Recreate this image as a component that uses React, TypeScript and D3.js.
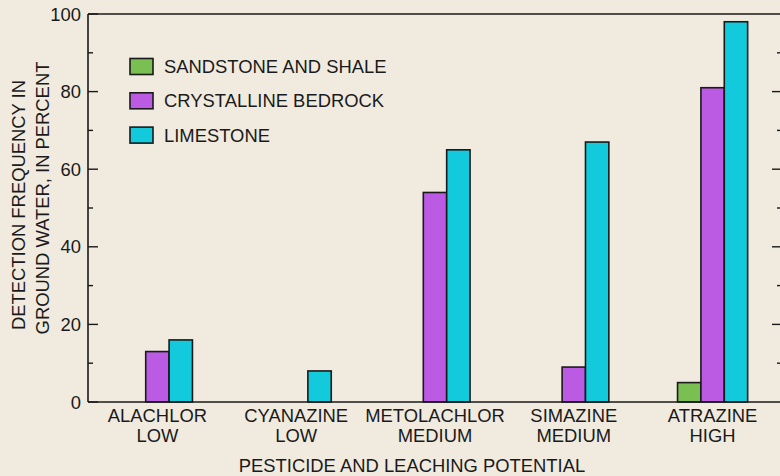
import React from "react";
import * as d3 from "d3";

const categories = ["ALACHLOR", "CYANAZINE", "METOLACHLOR", "SIMAZINE", "ATRAZINE"];
const potentials = ["LOW", "LOW", "MEDIUM", "MEDIUM", "HIGH"];
const seriesNames = ["SANDSTONE AND SHALE", "CRYSTALLINE BEDROCK", "LIMESTONE"];
const seriesColors = ["#7abf52", "#bb5be3", "#12cadc"];
const sandstone = [0, 0, 0, 0, 5];
const crystalline = [13, 0, 54, 9, 81];
const limestone = [16, 8, 65, 67, 98];
const yTicks = [0, 20, 40, 60, 80, 100];
const yMinor = [10, 30, 50, 70, 90];

const W = 780, H = 476;
const m = { left: 88, right: -2, top: 14, bottom: 74 };

export default function App() {
  const series = [sandstone, crystalline, limestone];
  const x = d3.scaleBand<string>().domain(categories).range([m.left, W - m.right]).paddingInner(0.495).paddingOuter(0.2475);
  const x1 = d3.scaleBand<number>().domain([0, 1, 2]).range([0, x.bandwidth()]);
  const y = d3.scaleLinear().domain([0, 100]).range([H - m.bottom, m.top]);
  const font = "'Liberation Sans', Arial, sans-serif";
  const ink = "#1a1a1a";
  const fs = 18.4;
  return (
    <svg width={W} height={H} style={{ position: "absolute", left: 0, top: 0, display: "block" }} fontFamily={font}>
      <rect x={0} y={0} width={W} height={H} fill="#f0eadf" />
      {/* bars */}
      {categories.map((c, i) => (
        <g key={c}>
          {series.map((s, j) => (
            <rect key={j} x={(x(c) as number) + (x1(j) as number)} y={y(s[i])} width={x1.bandwidth()}
              height={y(0) - y(s[i])} fill={seriesColors[j]} stroke={ink} strokeWidth={s[i] === 0 ? 2.4 : 1.6} />
          ))}
        </g>
      ))}
      {/* axes */}
      <line x1={m.left} x2={W} y1={y(100)} y2={y(100)} stroke={ink} strokeWidth={1.6} />
      <line x1={m.left} x2={W} y1={y(0)} y2={y(0)} stroke={ink} strokeWidth={1.4} />
      <line x1={m.left} x2={m.left} y1={y(100)} y2={y(0)} stroke={ink} strokeWidth={1.6} />
      {yTicks.map(t => (
        <g key={t}>
          <line x1={m.left} x2={m.left + 10} y1={y(t)} y2={y(t)} stroke={ink} strokeWidth={1.4} />
          {t > 0 && t < 100 && <line x1={772} x2={W} y1={y(t)} y2={y(t)} stroke={ink} strokeWidth={1.4} />}
          <text x={81} y={y(t)} dy="0.36em" textAnchor="end" fontSize={fs} fill={ink}>{t}</text>
        </g>
      ))}
      {yMinor.map(t => (
        <g key={t}>
          <line x1={m.left} x2={m.left + 5} y1={y(t)} y2={y(t)} stroke={ink} strokeWidth={1.4} />
          <line x1={777} x2={W} y1={y(t)} y2={y(t)} stroke={ink} strokeWidth={1.4} />
        </g>
      ))}
      {/* x labels */}
      {categories.map((c, i) => {
        const cx = (x(c) as number) + x.bandwidth() / 2;
        return (
          <g key={c}>
            <text x={cx} y={422} textAnchor="middle" fontSize={fs} fill={ink}>{c}</text>
            <text x={cx} y={442} textAnchor="middle" fontSize={fs} fill={ink}>{potentials[i]}</text>
          </g>
        );
      })}
      <text x={412} y={472} textAnchor="middle" fontSize={fs} fill={ink}>PESTICIDE AND LEACHING POTENTIAL</text>
      {/* y title */}
      <text transform={`translate(25,205) rotate(-90)`} textAnchor="middle" fontSize={fs} fill={ink}>DETECTION FREQUENCY IN</text>
      <text transform={`translate(49,198) rotate(-90)`} textAnchor="middle" fontSize={fs} fill={ink}>GROUND WATER, IN PERCENT</text>
      {/* legend */}
      {seriesNames.map((n, j) => (
        <g key={n} transform={`translate(130,${58.5 + j * 34.3})`}>
          <rect x={0} y={0} width={23} height={16} fill={seriesColors[j]} stroke={ink} strokeWidth={1.6} />
          <text x={34} y={8} dy="0.36em" fontSize={fs} fill={ink}>{n}</text>
        </g>
      ))}
    </svg>
  );
}
